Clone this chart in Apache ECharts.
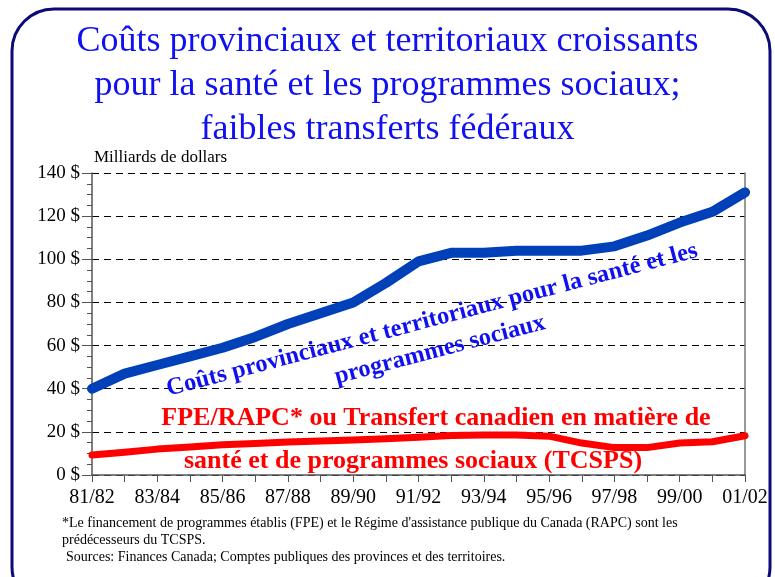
<!DOCTYPE html>
<html>
<head>
<meta charset="utf-8">
<script src="https://cdn.jsdelivr.net/npm/echarts@6/dist/echarts.min.js"></script>
<style>
  html, body { margin: 0; padding: 0; background: #fff; }
  #chart { width: 775px; height: 577px; }
</style>
</head>
<body>
<div id="chart"></div>
<script>
const years = ["81/82", "82/83", "83/84", "84/85", "85/86", "86/87", "87/88", "88/89", "89/90", "90/91",
  "91/92", "92/93", "93/94", "94/95", "95/96", "96/97", "97/98", "98/99", "99/00", "00/01", "01/02"];
const provCosts = [40, 47, 51, 55, 59, 64, 70, 75, 80, 89, 99, 103, 103, 104, 104, 104, 106, 111, 117, 122, 131];
const fedTransfers = [9.3, 10.5, 12, 13, 14, 14.6, 15.3, 15.8, 16.2, 16.8, 17.5, 18.3, 18.6, 18.5, 18, 14.8, 12.7, 12.7, 14.8, 15.4, 18.2];

const serif = "Liberation Serif";
const chart = echarts.init(document.getElementById("chart"));

chart.setOption({
  animation: false,
  backgroundColor: "#fff",
  textStyle: { fontFamily: serif },
  title: {
    text: "Coûts provinciaux et territoriaux croissants\npour la santé et les programmes sociaux;\nfaibles transferts fédéraux",
    left: "center",
    top: 15,
    textStyle: { fontFamily: serif, fontWeight: "normal", fontSize: 36, lineHeight: 44, color: "#1010f0" },
  },
  grid: { left: 92, right: 30, top: 173, bottom: 102 },
  xAxis: {
    type: "category",
    data: years,
    boundaryGap: false,
    axisLine: { lineStyle: { color: "#555", width: 1.5 } },
    axisTick: { show: true, length: 7, interval: 0, lineStyle: { color: "#555" } },
    axisLabel: { interval: 1, color: "#000", fontSize: 20, margin: 13, fontFamily: serif },
  },
  yAxis: [
    {
      type: "value",
      min: 0,
      max: 140,
      interval: 20,
      name: "Milliards de dollars",
      nameLocation: "end",
      nameGap: 7,
      nameTextStyle: { color: "#000", fontSize: 17, align: "left", fontFamily: serif, padding: [0, 0, 0, 2] },
      axisLine: { show: true, lineStyle: { color: "#555", width: 1.5 } },
      axisTick: { show: true, length: 10, lineStyle: { color: "#555" } },
      minorTick: { show: true, splitNumber: 4, length: 5, lineStyle: { color: "#555" } },
      axisLabel: { formatter: "{value} $", color: "#000", fontSize: 19, margin: 12, fontFamily: serif },
      splitLine: { show: true, lineStyle: { color: "#000", type: [7, 5], width: 1 } },
    },
    {
      type: "value",
      min: 0,
      max: 140,
      position: "right",
      axisLine: { show: true, lineStyle: { color: "#777", width: 1.5 } },
      axisTick: { show: false },
      axisLabel: { show: false },
      splitLine: { show: false },
    },
  ],
  series: [
    {
      name: "Coûts provinciaux et territoriaux pour la santé et les programmes sociaux",
      type: "line",
      data: provCosts,
      showSymbol: false,
      lineStyle: { color: "#0040b8", width: 10, cap: "round", join: "round" },
      z: 3,
    },
    {
      name: "FPE/RAPC* ou TCSPS",
      type: "line",
      data: fedTransfers,
      showSymbol: false,
      lineStyle: { color: "#ff0000", width: 7, cap: "round", join: "round" },
      z: 3,
    },
  ],
  graphic: [
    {
      type: "rect",
      shape: { x: 12, y: 9, width: 758, height: 600, r: 42 },
      style: { fill: "none", stroke: "#0a0a78", lineWidth: 3 },
      z: 1,
    },
    {
      type: "text",
      x: 432, y: 320,
      rotation: 0.257,
      style: {
        text: "Coûts provinciaux et territoriaux pour la santé et les",
        fill: "#1010f0", font: "bold 24.5px 'Liberation Serif'", align: "center", verticalAlign: "middle",
      },
      z: 10,
    },
    {
      type: "text",
      x: 440, y: 350,
      rotation: 0.257,
      style: {
        text: "programmes sociaux",
        fill: "#1010f0", font: "bold 24.5px 'Liberation Serif'", align: "center", verticalAlign: "middle",
      },
      z: 10,
    },
    {
      type: "text",
      x: 436, y: 418,
      style: {
        text: "FPE/RAPC* ou Transfert canadien en matière de",
        fill: "#ff0000", font: "bold 26px 'Liberation Serif'", align: "center", verticalAlign: "middle",
      },
      z: 10,
    },
    {
      type: "text",
      x: 413, y: 461,
      style: {
        text: "santé et de programmes sociaux (TCSPS)",
        fill: "#ff0000", font: "bold 26px 'Liberation Serif'", align: "center", verticalAlign: "middle",
      },
      z: 10,
    },
    {
      type: "text",
      x: 62, y: 523,
      style: {
        text: "*Le financement de programmes établis (FPE) et le Régime d'assistance publique du Canada (RAPC) sont les",
        fill: "#000", font: "14px 'Liberation Serif'", verticalAlign: "middle",
      },
    },
    {
      type: "text",
      x: 62, y: 540,
      style: { text: "prédécesseurs du TCSPS.", fill: "#000", font: "14px 'Liberation Serif'", verticalAlign: "middle" },
    },
    {
      type: "text",
      x: 66, y: 557,
      style: {
        text: "Sources: Finances Canada; Comptes publiques des provinces et des territoires.",
        fill: "#000", font: "14px 'Liberation Serif'", verticalAlign: "middle",
      },
    },
  ],
});
</script>
</body>
</html>
